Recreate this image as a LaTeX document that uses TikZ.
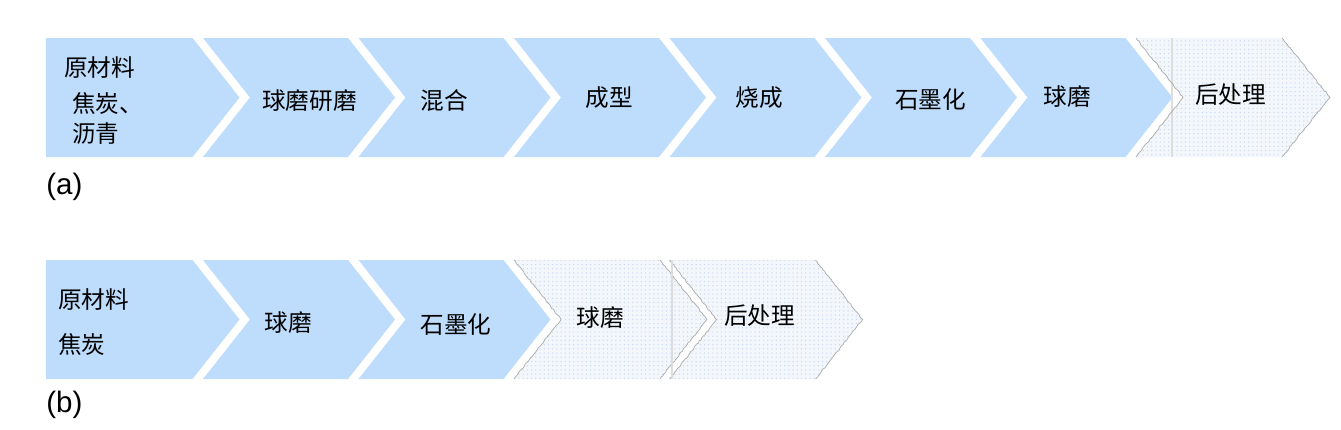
\documentclass[tikz,border=0pt]{standalone}
\usepackage{fontspec}
\setmainfont{Liberation Sans}
\newfontfamily\cjk{Noto Sans CJK SC}
\usetikzlibrary{patterns, decorations.pathmorphing}
\definecolor{chevblue}{RGB}{190,220,252}
\definecolor{dotbase}{RGB}{243,247,252}
\definecolor{dotblue}{RGB}{200,216,238}
\definecolor{edgegray}{RGB}{170,170,170}

\begin{document}
\begin{tikzpicture}[x=0.025cm, y=-0.025cm,
            bluechev/.style={fill=chevblue},
            dotchev/.style={fill=dotbase, postaction={pattern=dots, pattern color=dotblue}},
            torn/.style={draw=edgegray, line width=0.5pt, decorate,
                decoration={random steps, segment length=1.5pt, amplitude=0.4pt}},
            lbl/.style={font=\cjk\fontsize{16.8}{20}\selectfont, inner sep=0pt},
            tag/.style={font=\fontsize{21}{24}\selectfont, inner sep=0pt}
        ]
        \useasboundingbox (0,0) rectangle (1341,429);
        % --- (a) full process ---
        \fill[bluechev] (46,38) -- (192.5,38) -- (239.5,97.5) -- (192.5,157) -- (46,157) -- cycle;
        \foreach \L in {203,358.5,514,669.5,825,980.5}
            \fill[bluechev] (\L,38) -- ++(145,0) -- ++(47,59.5) -- ++(-47,59.5) -- ++(-145,0) -- ++(47,-59.5) -- cycle;
        \fill[dotchev] (1136,38) -- ++(146,0) -- ++(48,59.5) -- ++(-48,59.5) -- ++(-146,0) -- ++(47,-59.5) -- cycle;
        \draw[edgegray!40, line width=1.2pt] (1172,38) -- (1172,157);
        \draw[torn] (1136,38) -- (1183,97.5) -- (1136,157);
        \draw[torn] (1282,38) -- (1330,97.5) -- (1282,157);
        \node[lbl, anchor=west] (rawa) at (64,68) {原材料};
        \node[lbl, anchor=west] (cokea) at (72,103) {焦炭、};
        \node[lbl, anchor=west] (pitcha) at (72,134) {沥青};
        \node[lbl] (milla) at (309.5,101) {球磨研磨};
        \node[lbl] (mixa) at (444,101) {混合};
        \node[lbl] (forma) at (609,98) {成型};
        \node[lbl] (bakea) at (759.5,98) {烧成};
        \node[lbl] (grapha) at (930.5,100) {石墨化};
        \node[lbl] (balla) at (1067.5,97) {球磨};
        \node[lbl] (posta) at (1230.5,95) {后处理};
        \node[tag, anchor=west] (taga) at (46,187) {(a)};
        % --- (b) short process ---
        \fill[bluechev] (46,260) -- (192.5,260) -- (239.5,319.5) -- (192.5,379) -- (46,379) -- cycle;
        \foreach \L in {203,358.5}
            \fill[bluechev] (\L,260) -- ++(145,0) -- ++(47,59.5) -- ++(-47,59.5) -- ++(-145,0) -- ++(47,-59.5) -- cycle;
        \foreach \L in {514,669.5} {
            \fill[dotchev] (\L,260) -- ++(146,0) -- ++(47,59.5) -- ++(-47,59.5) -- ++(-146,0) -- ++(47,-59.5) -- cycle;
            \draw[torn] (\L,260) -- ++(47,59.5) -- ++(-47,59.5);
            \draw[torn] (\L+146,260) -- ++(47,59.5) -- ++(-47,59.5);
        }
        \draw[edgegray!40, line width=1.2pt] (672,260) -- (672,379);
        \node[lbl, anchor=west] (rawb) at (58,300) {原材料};
        \node[lbl, anchor=west] (cokeb) at (58,344) {焦炭};
        \node[lbl] (millb) at (288,323) {球磨};
        \node[lbl] (graphb) at (456,325) {石墨化};
        \node[lbl] (ballb) at (600,318) {球磨};
        \node[lbl] (postb) at (759.5,316) {后处理};
        \node[tag, anchor=west] (tagb) at (46,405) {(b)};
\end{tikzpicture}
\end{document}
